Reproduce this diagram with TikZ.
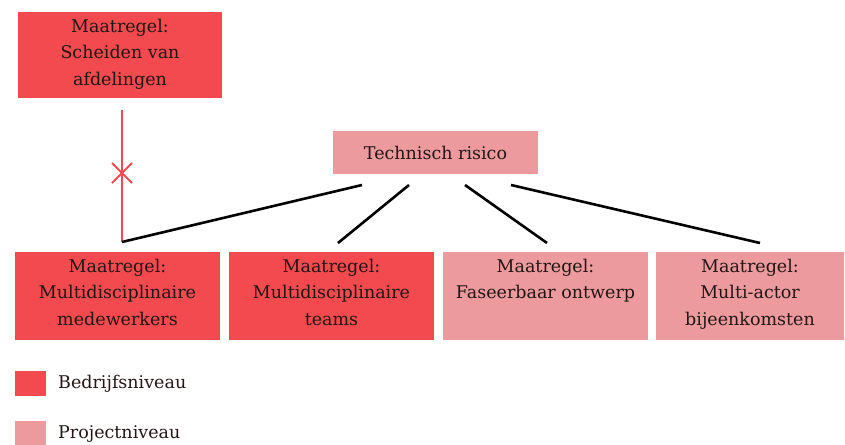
\documentclass[tikz,border=0pt]{standalone}
\usepackage{fontspec}
\setmainfont{DejaVu Serif}
\usetikzlibrary{calc}
\definecolor{bedrijf}{RGB}{242,74,78}
\definecolor{project}{RGB}{236,154,158}
\definecolor{ink}{RGB}{35,22,22}
\begin{document}
\begin{tikzpicture}[x=1pt,y=-1pt,
  box/.style={draw=none,inner sep=0pt,minimum width=205pt,minimum height=88pt},
  rbox/.style={box,fill=bedrijf},
  pbox/.style={box,fill=project},
  txt/.style={anchor=north,text=ink,align=center,font=\fontsize{17.5}{26.5}\selectfont,inner sep=0pt},
  link/.style={draw=black,line width=2.6pt},
  redlink/.style={draw=bedrijf,line width=2.2pt}]
\useasboundingbox (0,0) rectangle (845,444);

% measure at company level
\node[rbox,minimum width=204pt,minimum height=86pt] (top) at (120,55) {};
\node[txt] (toptxt) at ($(top.north)+(0,7)$) {Maatregel:\\Scheiden van\\afdelingen};

% risk
\node[pbox,minimum width=205pt,minimum height=43pt] (risk) at (435.5,152.5) {};
\node[text=ink,font=\fontsize{17.5}{20}\selectfont,inner sep=0pt] (risktxt) at (risk.center) {Technisch risico};

% measures below
\node[rbox] (m1) at (117.5,296) {};
\node[rbox] (m2) at (331.5,296) {};
\node[pbox] (m3) at (545.5,296) {};
\node[pbox,minimum width=188pt] (m4) at (750,296) {};
\node[txt] (m1txt) at ($(m1.north)+(0,7)$) {Maatregel:\\Multidisciplinaire\\medewerkers};
\node[txt] (m2txt) at ($(m2.north)+(0,7)$) {Maatregel:\\Multidisciplinaire\\teams};
\node[txt] (m3txt) at ($(m3.north)+(0,7)$) {Maatregel:\\Faseerbaar ontwerp};
\node[txt] (m4txt) at ($(m4.north)+(0,7)$) {Maatregel:\\Multi-actor\\bijeenkomsten};

% connector end points
\coordinate (a1) at (362,185);
\coordinate (a2) at (409,185);
\coordinate (a3) at (465,185);
\coordinate (a4) at (511,185);
\coordinate (corner) at (122,242);
\coordinate (b2) at (338,243);
\coordinate (b3) at (547,243);
\coordinate (b4) at (760,243);
\coordinate (redtop) at (122,110);
\coordinate (cross) at (122,173);

\draw[redlink] (redtop) -- (corner);
\draw[bedrijf,line width=2pt] ($(cross)+(-10,-10)$) -- ($(cross)+(10,10)$)
  ($(cross)+(-10,10)$) -- ($(cross)+(10,-10)$);
\draw[link] (a1) -- (corner);
\draw[link] (a2) -- (b2);
\draw[link] (a3) -- (b3);
\draw[link] (a4) -- (b4);

% legend
\node[fill=bedrijf,minimum width=31pt,minimum height=25pt,inner sep=0pt] (lg1) at (30.5,383.5) {};
\node[fill=project,minimum width=31pt,minimum height=25pt,inner sep=0pt] (lg2) at (30.5,433.5) {};
\node[anchor=west,text=ink,font=\fontsize{17.5}{20}\selectfont,inner sep=0pt] (lg1txt) at (58,384) {Bedrijfsniveau};
\node[anchor=west,text=ink,font=\fontsize{17.5}{20}\selectfont,inner sep=0pt] (lg2txt) at (58,434) {Projectniveau};
\end{tikzpicture}
\end{document}
